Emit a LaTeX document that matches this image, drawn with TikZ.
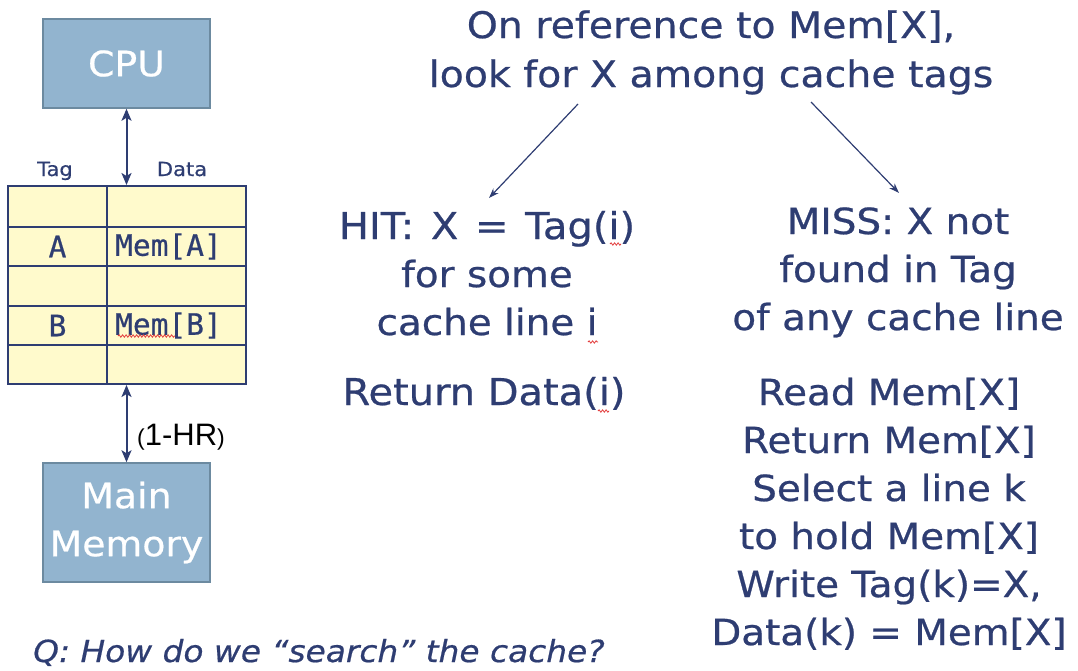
\documentclass[tikz,border=0pt]{standalone}
\usepackage{fontspec}
\setmainfont[FakeStretch=1.08, FakeBold=0.6]{DejaVu Sans}
\newfontfamily\monofont[FakeBold=0.6]{DejaVu Sans Mono}
\newfontfamily\arialfont{Liberation Sans}
\usetikzlibrary{arrows.meta,decorations.pathmorphing}

\definecolor{navy}{RGB}{46,61,114}
\definecolor{boxfill}{RGB}{146,180,207}
\definecolor{boxline}{RGB}{108,138,160}
\definecolor{cellfill}{RGB}{255,250,204}
\definecolor{squig}{RGB}{226,60,60}

\tikzset{
  unit/.style={draw=boxline, line width=1.5pt, fill=boxfill, text=white,
    font=\fontsize{35}{48}\selectfont, align=center, inner sep=0pt},
  cachebox/.style={draw=navy, line width=2pt, fill=cellfill, inner sep=0pt},
  gridline/.style={draw=navy, line width=2pt},
  cell/.style={text=navy, font=\monofont\fontsize{29.5}{30}\selectfont, inner sep=0pt},
  colhead/.style={text=navy, font=\fontsize{19.5}{22}\selectfont, inner sep=0pt, anchor=base},
  body/.style={text=navy, font=\fontsize{36}{48}\selectfont, align=center, inner sep=0pt, anchor=base},
  link/.style={draw=navy, line width=2pt, {Stealth[length=12pt,width=10pt,inset=3pt]}-{Stealth[length=12pt,width=10pt,inset=3pt]}},
  branch/.style={draw=navy, line width=1.2pt, -{Stealth[length=10pt,width=7pt]}},
  spell/.style={draw=squig, line width=0.8pt, decorate,
    decoration={snake, amplitude=1.2pt, segment length=3.5pt}}
}

\begin{document}
\begin{tikzpicture}[x=1pt, y=-1pt]
\useasboundingbox (0,0) rectangle (1078,670);

% processor and memory
\node[unit, minimum width=167pt, minimum height=89pt] (cpu) at (126.5,63.5) {CPU};
\node[unit, minimum width=167pt, minimum height=119pt] (mem) at (126.5,522.5) {Main\\Memory};

% cache table: tag and data columns
\node[cachebox, minimum width=238pt, minimum height=198pt] (cache) at (127,285) {};
\draw[gridline] (107,186) -- (107,384);
\foreach \y in {227,266,306,345} \draw[gridline] (8,\y) -- (246,\y);

\node[colhead] (taghead) at (55,176) {Tag};
\node[colhead] (datahead) at (182,176) {Data};

\node[cell] (tagA) at (57.5,246.5) {A};
\node[cell, anchor=west] (dataA) at (115,246.5) {Mem[A]};
\node[cell] (tagB) at (57.5,325.5) {B};
\node[cell, anchor=west] (dataB) at (115,325.5) {Mem[B]};
\draw[spell] (118,336) -- (175,336);

% buses
\draw[link] (cpu.south) -- (cpu.south |- cache.north);
\draw[link] (cache.south -| mem.north) -- (mem.north);
\node[anchor=base west, inner sep=0pt, font=\arialfont\fontsize{31}{34}\selectfont] (missrate)
  at (137,445) {{\fontsize{23}{26}\selectfont(}1-HR{\fontsize{23}{26}\selectfont)}};

% lookup description (base anchor sits on the last line)
\node[body, font=\fontsize{36.5}{49}\selectfont] (lookup) at (711,87) {On reference to Mem[X],\\look for X among cache tags};

\node[body] (hit) at (487,335) {{\fontsize{37}{48}\selectfont HIT:\hspace{4pt} X\hspace{4pt} =\hspace{4pt} Tag(i)}\\for some\\cache line i};
\node[body, font=\fontsize{37}{48}\selectfont] (hitact) at (484,405) {Return Data(i)};

\node[body] (miss) at (898,330) {MISS: X not\\found in Tag\\of any cache line};
\node[body] (missact) at (889,645) {Read Mem[X]\\Return Mem[X]\\Select a line k\\to hold Mem[X]\\Write Tag(k)=X,\\Data(k) = Mem[X]};

\draw[spell] (610,244) -- (621,244);
\draw[spell] (588,342) -- (598,342);
\draw[spell] (598,411) -- (609,411);

\coordinate (hitfrom) at (578,104);
\coordinate (hitto) at (489,198);
\coordinate (missfrom) at (811,102);
\coordinate (missto) at (899,193);
\draw[branch] (hitfrom) -- (hitto);
\draw[branch] (missfrom) -- (missto);

% question
\node[anchor=base west, inner sep=0pt, text=navy, font=\itshape\fontsize{30.4}{34}\selectfont] (question)
  at (33,662) {Q: How do we “search” the cache?};
\end{tikzpicture}
\end{document}
